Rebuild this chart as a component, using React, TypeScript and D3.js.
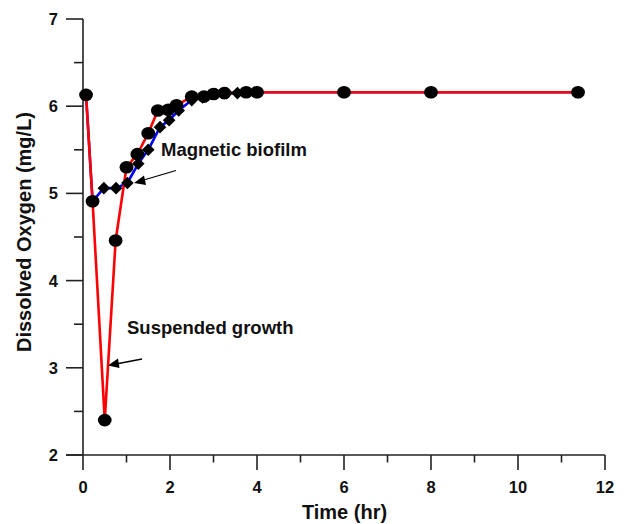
import React from "react";
import * as d3 from "d3";

const suspendedTime = [0.07, 0.22, 0.5, 0.75, 1.0, 1.25, 1.5, 1.72, 1.96, 2.15, 2.5, 2.78, 3.0, 3.25, 3.75, 4.0, 6.0, 8.0, 11.38];
const suspendedDO = [6.13, 4.91, 2.40, 4.46, 5.30, 5.45, 5.69, 5.95, 5.96, 6.01, 6.11, 6.11, 6.14, 6.15, 6.16, 6.16, 6.16, 6.16, 6.16];

const biofilmTime = [0.07, 0.22, 0.48, 0.76, 1.02, 1.27, 1.5, 1.77, 1.98, 2.2, 2.5, 2.75, 3.05, 3.3, 3.55, 4.0, 6.0, 8.0, 11.38];
const biofilmDO = [6.13, 4.91, 5.06, 5.06, 5.12, 5.34, 5.50, 5.76, 5.84, 5.95, 6.07, 6.10, 6.14, 6.15, 6.15, 6.16, 6.16, 6.16, 6.16];

const xTicks = [0, 2, 4, 6, 8, 10, 12];
const xMinorTicks = [1, 3, 5, 7, 9, 11];
const yTicks = [2, 3, 4, 5, 6, 7];
const yMinorTicks = [2.5, 3.5, 4.5, 5.5, 6.5];

const FONT = "'Liberation Sans', Arial, Helvetica, sans-serif";

export default function App() {
  const x = d3.scaleLinear().domain([0, 12]).range([83, 605]);
  const y = d3.scaleLinear().domain([2, 7]).range([455, 19]);

  const susp = suspendedTime.map((t, i) => [t, suspendedDO[i]] as [number, number]);
  const bio = biofilmTime.map((t, i) => [t, biofilmDO[i]] as [number, number]);

  const line = d3
    .line<[number, number]>()
    .x((d) => x(d[0]))
    .y((d) => y(d[1]));

  const axisColor = "#222";
  const x0 = x(0);
  const y0 = y(2);

  return (
    <svg
      width={626}
      height={524}
      style={{ position: "absolute", left: 0, top: 0, background: "#fff" }}
      fontFamily={FONT}
    >
      <rect x={0} y={0} width={626} height={524} fill="#fff" />
      {/* axes */}
      <line x1={x0} x2={x0} y1={y(7)} y2={y0} stroke={axisColor} strokeWidth={1.6} />
      <line x1={x0 - 17} x2={x(12)} y1={y0} y2={y0} stroke={axisColor} strokeWidth={1.6} />
      {yTicks.map((v) => (
        <g key={"yt" + v}>
          <line x1={x0 - 17} x2={x0} y1={y(v)} y2={y(v)} stroke={axisColor} strokeWidth={1.6} />
          <text x={58} y={y(v)} dy="0.36em" textAnchor="end" fontSize={16.5} fontWeight="bold" fill="#111">
            {v}
          </text>
        </g>
      ))}
      {yMinorTicks.map((v) => (
        <line key={"ym" + v} x1={x0 - 9} x2={x0} y1={y(v)} y2={y(v)} stroke={axisColor} strokeWidth={1.6} />
      ))}
      {xTicks.map((v) => (
        <g key={"xt" + v}>
          <line x1={x(v)} x2={x(v)} y1={y0} y2={y0 + 15} stroke={axisColor} strokeWidth={1.6} />
          <text x={x(v)} y={493} textAnchor="middle" fontSize={16.5} fontWeight="bold" fill="#111">
            {v}
          </text>
        </g>
      ))}
      {xMinorTicks.map((v) => (
        <line key={"xm" + v} x1={x(v)} x2={x(v)} y1={y0} y2={y0 + 7.5} stroke={axisColor} strokeWidth={1.6} />
      ))}
      <text x={344.5} y={518.5} textAnchor="middle" fontSize={20} fontWeight="bold" fill="#111">
        Time (hr)
      </text>
      <text
        transform={`translate(31,232) rotate(-90)`}
        textAnchor="middle"
        fontSize={20}
        fontWeight="bold"
        fill="#111"
      >
        Dissolved Oxygen (mg/L)
      </text>

      {/* lines */}
      <path d={line(bio) || ""} fill="none" stroke="#0000ff" strokeWidth={2.6} strokeLinejoin="round" />
      <path d={line(susp) || ""} fill="none" stroke="#ff0000" strokeWidth={2.6} strokeLinejoin="round" />

      {/* markers */}
      {bio.map((d, i) => {
        const cx = x(d[0]);
        const cy = y(d[1]);
        return (
          <path
            key={"bd" + i}
            d={`M${cx},${cy - 6.3}L${cx + 6.3},${cy}L${cx},${cy + 6.3}L${cx - 6.3},${cy}Z`}
            fill="#000"
          />
        );
      })}
      {susp.map((d, i) => (
        <ellipse key={"sc" + i} cx={x(d[0])} cy={y(d[1])} rx={6.9} ry={6.3} fill="#000" />
      ))}

      {/* annotations */}
      <text x={161} y={155.5} fontSize={18.5} fontWeight="bold" fill="#111">
        Magnetic biofilm
      </text>
      <line x1={176} y1={170.5} x2={142} y2={180.5} stroke="#000" strokeWidth={1.3} />
      <path d="M134,183 L144,175.5 L146,185 Z" fill="#000" />

      <text x={127} y={334} fontSize={18.5} fontWeight="bold" fill="#111">
        Suspended growth
      </text>
      <line x1={142} y1={359} x2={116} y2={364} stroke="#000" strokeWidth={1.3} />
      <path d="M108,365.5 L118,358.5 L119.5,368 Z" fill="#000" />
    </svg>
  );
}
